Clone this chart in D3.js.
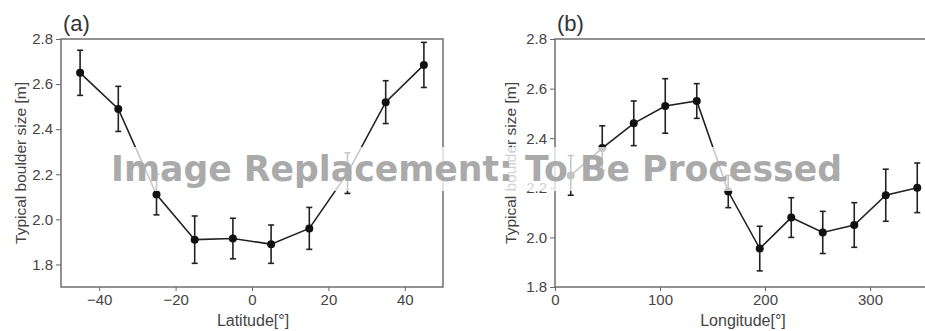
<!DOCTYPE html>
<html>
<head>
<meta charset="utf-8">
<script src="https://cdn.jsdelivr.net/npm/d3@7"></script>
<style>
  html, body { margin: 0; padding: 0; background: #fff; }
  svg { display: block; }
  .tick text { font-family: "Liberation Sans", Arial, sans-serif; font-size: 15px; fill: #444; }
</style>
</head>
<body>
<div id="chart"></div>
<script>
// panel (a): latitude
const latBins = [-45, -35, -25, -15, -5, 5, 15, 25, 35, 45];
const latSize = [2.65, 2.49, 2.11, 1.91, 1.915, 1.89, 1.96, 2.205, 2.52, 2.685];
const latErr = [0.1, 0.1, 0.09, 0.105, 0.09, 0.085, 0.093, 0.09, 0.095, 0.1];
const latTicks = [-40, -20, 0, 20, 40];

// panel (b): longitude
const lonBins = [15, 45, 75, 105, 135, 165, 195, 225, 255, 285, 315, 345];
const lonSize = [2.25, 2.36, 2.46, 2.53, 2.55, 2.185, 1.955, 2.08, 2.02, 2.05, 2.17, 2.2];
const lonErr = [0.08, 0.09, 0.09, 0.11, 0.07, 0.065, 0.09, 0.08, 0.085, 0.09, 0.105, 0.1];
const lonTicks = [0, 100, 200, 300];

const yTicksA = [1.8, 2.0, 2.2, 2.4, 2.6, 2.8];
const yTicksB = [1.8, 2.0, 2.2, 2.4, 2.6, 2.8];

const overlayText = 'Image Replacement: To Be Processed';

const width = 925, height = 331;
const svg = d3.select('#chart').append('svg')
  .attr('width', width)
  .attr('height', height);

function drawPanel(opts) {
  const x = d3.scaleLinear().domain(opts.xDomain).range(opts.xRange);
  const y = d3.scaleLinear().domain(opts.yDomain).range([287, 39]);
  const g = svg.append('g');

  // frame
  g.append('rect')
    .attr('x', opts.xRange[0])
    .attr('y', 39)
    .attr('width', opts.xRange[1] - opts.xRange[0])
    .attr('height', 287 - 39)
    .attr('fill', 'none')
    .attr('stroke', '#777')
    .attr('stroke-width', 1.6);

  const xAxis = g.append('g')
    .attr('transform', 'translate(0,287)')
    .call(d3.axisBottom(x).tickValues(opts.xTicks).tickSize(4).tickPadding(3)
      .tickFormat(d => d < 0 ? '\u2212' + Math.abs(d) : d));
  xAxis.select('.domain').remove();
  xAxis.selectAll('.tick line').attr('stroke', '#666');

  const yAxis = g.append('g')
    .attr('transform', `translate(${opts.xRange[0]},0)`)
    .call(d3.axisLeft(y).tickValues(opts.yTicks).tickSize(5).tickPadding(3).tickFormat(d3.format('.1f')));
  yAxis.select('.domain').remove();
  yAxis.selectAll('.tick line').attr('stroke', '#666');

  const pts = opts.bins.map((b, i) => ({ x: b, v: opts.size[i], e: opts.err[i] }));

  g.append('path')
    .datum(pts)
    .attr('fill', 'none')
    .attr('stroke', '#222')
    .attr('stroke-width', 1.6)
    .attr('d', d3.line().x(d => x(d.x)).y(d => y(d.v)));

  const eb = g.selectAll('.eb').data(pts).enter().append('g').attr('class', 'eb')
    .attr('stroke', '#222').attr('stroke-width', 1.6);
  eb.append('line')
    .attr('x1', d => x(d.x)).attr('x2', d => x(d.x))
    .attr('y1', d => y(d.v - d.e)).attr('y2', d => y(d.v + d.e));
  eb.append('line')
    .attr('x1', d => x(d.x) - 3).attr('x2', d => x(d.x) + 3)
    .attr('y1', d => y(d.v + d.e)).attr('y2', d => y(d.v + d.e));
  eb.append('line')
    .attr('x1', d => x(d.x) - 3).attr('x2', d => x(d.x) + 3)
    .attr('y1', d => y(d.v - d.e)).attr('y2', d => y(d.v - d.e));

  g.selectAll('.pt').data(pts).enter().append('circle')
    .attr('cx', d => x(d.x))
    .attr('cy', d => y(d.v))
    .attr('r', 4)
    .attr('fill', '#111');

  // panel letter
  g.append('text')
    .attr('x', opts.xRange[0] + 2)
    .attr('y', 31)
    .attr('font-family', '"Liberation Sans", Arial, sans-serif')
    .attr('font-size', 22)
    .attr('fill', '#333')
    .text(opts.letter);

  // axis labels
  g.append('text')
    .attr('x', opts.xLabelX)
    .attr('y', 326)
    .attr('text-anchor', 'middle')
    .attr('font-family', '"Liberation Sans", Arial, sans-serif')
    .attr('font-size', 16)
    .attr('fill', '#444')
    .text(opts.xLabel);

  g.append('text')
    .attr('transform', `translate(${opts.yLabelX},163) rotate(-90)`)
    .attr('text-anchor', 'middle')
    .attr('font-family', '"Liberation Sans", Arial, sans-serif')
    .attr('font-size', 15.5)
    .attr('fill', '#444')
    .text('Typical boulder size [m]');
}

drawPanel({
  letter: '(a)',
  bins: latBins, size: latSize, err: latErr,
  xDomain: [-50, 50], xRange: [61, 443], xTicks: latTicks,
  yDomain: [1.7, 2.8], yTicks: yTicksA,
  xLabel: 'Latitude[°]', xLabelX: 253, yLabelX: 26
});

drawPanel({
  letter: '(b)',
  bins: lonBins, size: lonSize, err: lonErr,
  xDomain: [0, 360], xRange: [555, 933], xTicks: lonTicks,
  yDomain: [1.8, 2.8], yTicks: yTicksB,
  xLabel: 'Longitude[°]', xLabelX: 743, yLabelX: 516
});

// placeholder overlay band and text
svg.append('rect')
  .attr('x', 104).attr('y', 147)
  .attr('width', 744).attr('height', 44)
  .attr('fill', '#fff')
  .attr('opacity', 0.75);

svg.append('text')
  .attr('x', 111)
  .attr('y', 181)
  .attr('textLength', 731)
  .attr('lengthAdjust', 'spacingAndGlyphs')
  .attr('font-family', '"DejaVu Sans", sans-serif')
  .attr('font-weight', 'bold')
  .attr('font-size', 35)
  .attr('fill', '#aaa')
  .text(overlayText);
</script>
</body>
</html>
